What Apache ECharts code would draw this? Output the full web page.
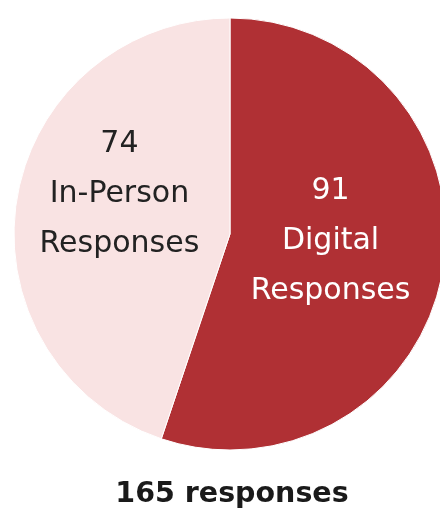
<!DOCTYPE html>
<html><head><meta charset="utf-8">
<script src="https://cdn.jsdelivr.net/npm/echarts@6/dist/echarts.min.js"></script>
<style>html,body{margin:0;padding:0;background:#fff}#c{width:440px;height:513px}</style>
</head><body><div id="c"></div>
<script>
const categories = ['Digital Responses', 'In-Person Responses'];
const labelLines = [['Digital', 'Responses'], ['In-Person', 'Responses']];
const values = [91, 74];
const colors = ['#b03034', '#f9e3e3'];
const textColors = ['#ffffff', '#222222'];
const labelOffsets = [[-9, -11], [-1, -22]];
const total = values.reduce((a, b) => a + b, 0);

const chart = echarts.init(document.getElementById('c'));
chart.setOption({
  animation: false,
  title: {
    text: total + ' responses',
    left: 227,
    textAlign: 'center',
    top: 475,
    textStyle: { fontFamily: 'DejaVu Sans', fontWeight: 'bold', fontSize: 28.5, color: '#1a1a1a' }
  },
  series: [{
    type: 'pie',
    center: [230, 234],
    radius: [0, 216],
    startAngle: 90,
    clockwise: true,
    itemStyle: { borderColor: '#ffffff', borderWidth: 1 },
    label: {
      position: 'inside',
      fontFamily: 'DejaVu Sans',
      fontWeight: 'normal',
      fontSize: 30,
      lineHeight: 50,
      align: 'center'
    },
    labelLine: { show: false },
    data: categories.map((c, i) => ({
      name: c,
      value: values[i],
      itemStyle: { color: colors[i] },
      label: {
        color: textColors[i],
        offset: labelOffsets[i],
        formatter: () => [String(values[i])].concat(labelLines[i]).join('\n')
      }
    }))
  }]
});
</script></body></html>
